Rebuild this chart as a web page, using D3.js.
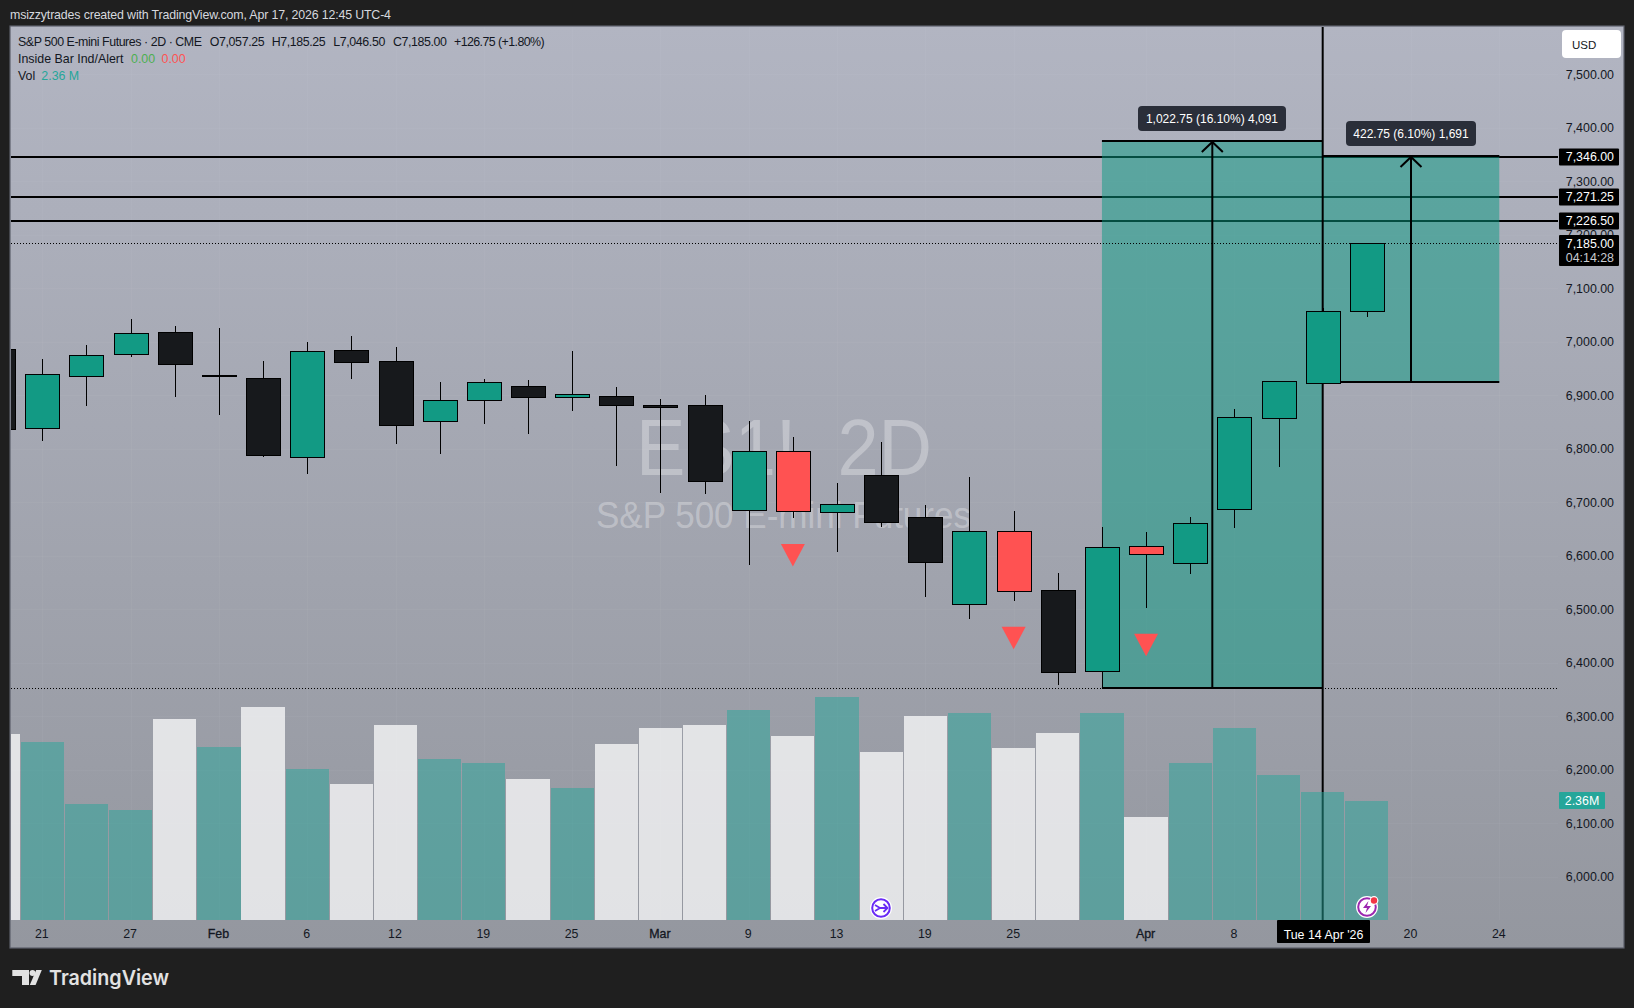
<!DOCTYPE html>
<html><head><meta charset="utf-8">
<style>html,body{margin:0;padding:0;background:#1f1f1f;overflow:hidden}svg{display:block}text{font-family:"Liberation Sans",Arial,sans-serif}</style>
<script src="https://cdnjs.cloudflare.com/ajax/libs/d3/7.8.5/d3.min.js"></script>
</head><body><svg id="c" width="1634" height="1008"></svg>
<script>
// bar index -1 is the partly visible bar at the left edge
const barIndex=d3.range(-1,31);
const opens =[6985.8,6838,6937,6976,7019,6937,6932,6784,6984,6963,6850.6,6890.5,6917,6897,6898,6881,6881,6685,6795,6682,6750,6672,6509,6645.6,6535,6384,6617.5,6587,6686,6856,6924,7057.25];
const highs =[7030,6967,6993,7042,7029,7025,6964,6999,7011,6991,6924,6930,6928,6982,6915,6892,6900,6851,6822,6735,6812.5,6694,6746.5,6683,6567,6653.6,6643.7,6672,6874,6926,7063,7185.25];
const lows  =[6800,6815,6879,6972,6897,6863,6785,6752,6931,6808,6791,6847,6827.6,6871,6768,6718,6716,6583,6670,6607,6654,6523,6481.7,6516,6359,6352.5,6502,6566,6651.8,6766,6924,7046.5];
const closes=[6836.3,6939,6976,7016,6960,6936.5,6788,6982,6961.5,6843,6890.5,6924,6897,6901.7,6882,6877,6738.5,6795,6682,6697,6662,6587,6645.6,6533.4,6381,6615.7,6602,6662,6858.6,6926,7058.25,7185];
const signalBars=[17,22,25];
const signalPrices=[6622,6467,6454];
const volumes=[3.68,3.51,2.30,2.17,3.97,3.41,4.21,2.98,2.69,3.86,3.18,3.10,2.79,2.61,3.47,3.80,3.86,4.15,3.64,4.40,3.33,4.03,4.09,3.39,3.70,4.09,2.03,3.10,3.80,2.86,2.53,2.36];
const volumeUp=[0,1,1,1,0,1,0,1,0,0,1,1,0,1,0,0,0,1,0,1,0,0,1,0,0,1,0,1,1,1,1,1];
const priceTicks=d3.range(6000,7501,100);
const timeTickIndex=[0,2,4,6,8,10,12,14,16,18,20,22,25,27,31,33];
const timeTickLabels=["21","27","Feb","6","12","19","25","Mar","9","13","19","25","Apr","8","20","24"];
const majorLabels=["Feb","Mar","Apr"];
const levels=[7346,7271.25,7226.5];
const levelLabels=["7,346.00","7,271.25","7,226.50"];
const lastPrice=7185, lowPrice=6352.5;
const measureA={from:24,to:29,mid:26.5,low:6352.5,high:7375.25,label:"1,022.75 (16.10%) 4,091"};
const measureB={from:29,to:33,mid:31,low:6925.25,high:7348,label:"422.75 (6.10%) 1,691"};
const measures=[measureA,measureB];

const W=1634,H=1008,L=11,R=1623,T=27,B=947,PaneR=1558,AxisY=920;
const x=d3.scaleLinear().domain([0,33]).range([42.3,1499.3]);
const y=d3.scaleLinear().domain([6000,7500]).range([876.7,74.2]);
const yv=d3.scaleLinear().domain([0,4.4]).range([AxisY,697.4]);
const svg=d3.select("#c");
const defs=svg.append("defs");
const g=defs.append("linearGradient").attr("id","bg").attr("x1",0).attr("x2",0).attr("y1",0).attr("y2",1);
g.append("stop").attr("offset",0).attr("stop-color","#b2b5c2");
g.append("stop").attr("offset",1).attr("stop-color","#94979f");
defs.append("clipPath").attr("id","pane").append("rect").attr("x",L).attr("y",T).attr("width",PaneR-L).attr("height",AxisY-T);

svg.append("rect").attr("width",W).attr("height",H).attr("fill","#1f1f1f");
const tsz=12.4;
svg.append("text").attr("x",10).attr("y",18.5).attr("fill","#d6d8de").attr("font-size",12.4).attr("textLength",381).attr("lengthAdjust","spacing").text("msizzytrades created with TradingView.com, Apr 17, 2026 12:45 UTC-4");
svg.append("rect").attr("x",L-1).attr("y",T-1).attr("width",R-L+2).attr("height",B-T+2).attr("fill","url(#bg)").attr("stroke","#5d606b").attr("stroke-width",1.2);

const pane=svg.append("g").attr("clip-path","url(#pane)");
// grid
pane.append("g").selectAll("line").data(priceTicks).join("line").attr("x1",L).attr("x2",PaneR).attr("y1",d=>Math.round(y(d))+.5).attr("y2",d=>Math.round(y(d))+.5).attr("stroke","rgba(255,255,255,0.035)");
pane.append("g").selectAll("line").data(timeTickIndex).join("line").attr("x1",d=>Math.round(x(d))+.5).attr("x2",d=>Math.round(x(d))+.5).attr("y1",T).attr("y2",AxisY).attr("stroke","rgba(255,255,255,0.035)");
// watermark
pane.append("text").attr("x",636).attr("y",475).attr("font-size",80).attr("fill","rgba(255,255,255,0.3)").attr("textLength",296).attr("lengthAdjust","spacingAndGlyphs").text("ES1!, 2D");
pane.append("text").attr("x",596).attr("y",528).attr("font-size",36).attr("fill","rgba(255,255,255,0.3)").attr("textLength",375).attr("lengthAdjust","spacingAndGlyphs").text("S&P 500 E-mini Futures");
// levels
pane.append("g").selectAll("line").data(levels).join("line").attr("x1",L).attr("x2",PaneR+1).attr("y1",d=>Math.round(y(d))).attr("y2",d=>Math.round(y(d))).attr("stroke","#000").attr("stroke-width",2);
// boxes
const mg=pane.append("g");
mg.selectAll("rect").data(measures).join("rect").attr("x",d=>x(d.from)).attr("width",d=>x(d.to)-x(d.from)).attr("y",d=>y(d.high)).attr("height",d=>y(d.low)-y(d.high)).attr("fill","rgba(8,153,129,0.5)");
measures.forEach(m=>{
  const xa=x(m.from),xb=x(m.to),xm=x(m.mid),yt=Math.round(y(m.high)),yb=Math.round(y(m.low));
  mg.append("line").attr("x1",xa).attr("x2",xb).attr("y1",yt).attr("y2",yt).attr("stroke","#000").attr("stroke-width",2);
  mg.append("line").attr("x1",xa).attr("x2",xb).attr("y1",yb).attr("y2",yb).attr("stroke","#000").attr("stroke-width",2);
  mg.append("line").attr("x1",xm).attr("x2",xm).attr("y1",yt).attr("y2",yb).attr("stroke","#000").attr("stroke-width",2);
  mg.append("path").attr("d",`M${xm-10.5},${yt+11}L${xm},${yt+1}L${xm+10.5},${yt+11}`).attr("fill","none").attr("stroke","#000").attr("stroke-width",2);
});
// dotted lines
[lastPrice,lowPrice].forEach(p=>{pane.append("line").attr("x1",L).attr("x2",PaneR).attr("y1",Math.round(y(p))+.5).attr("y2",Math.round(y(p))+.5).attr("stroke","#000").attr("stroke-dasharray","1 2");});
// crosshair
pane.append("line").attr("x1",x(29)).attr("x2",x(29)).attr("y1",T).attr("y2",AxisY).attr("stroke","#000").attr("stroke-width",2);
// volume
pane.append("g").selectAll("rect").data(volumes).join("rect").attr("x",(d,i)=>x(barIndex[i])-21.6).attr("width",43.2).attr("y",d=>yv(d)).attr("height",d=>AxisY-yv(d)).attr("shape-rendering","crispEdges").attr("fill",(d,i)=>volumeUp[i]?"rgba(38,166,154,0.5)":"rgba(255,255,255,0.72)");
// candles
const candles=pane.append("g").selectAll("g").data(barIndex).join("g");
const col=(i,b)=>signalBars.includes(b)?"#ff5252":closes[i]>=opens[i]?"#129a84":"#17191c";
candles.append("line").attr("x1",b=>Math.round(x(b))+.5).attr("x2",b=>Math.round(x(b))+.5).attr("y1",(b,i)=>y(highs[i])).attr("y2",(b,i)=>y(lows[i])).attr("stroke","#000").attr("shape-rendering","crispEdges");
candles.append("rect").attr("x",b=>Math.round(x(b))-16.5).attr("width",34).attr("y",(b,i)=>Math.round(y(Math.max(opens[i],closes[i])))+.5).attr("height",(b,i)=>Math.max(1,Math.round(Math.abs(y(opens[i])-y(closes[i]))))).attr("fill",(b,i)=>col(i,b)).attr("stroke","#000");
// signals
pane.append("g").selectAll("path").data(signalBars).join("path").attr("d",(b,i)=>{const X=x(b),Y=y(signalPrices[i]);return `M${X-12},${Y}L${X+12},${Y}L${X},${Y+22.5}Z`;}).attr("fill","#ff5252");
// measure labels
[[measureA,1138,1286,106,131],[measureB,1346,1476,121,146]].forEach(([m,a,b,t,e])=>{
  svg.append("rect").attr("x",a).attr("y",t).attr("width",b-a).attr("height",e-t).attr("rx",4).attr("fill","#2a2e39");
  svg.append("text").attr("x",(a+b)/2).attr("y",t+17).attr("text-anchor","middle").attr("fill","#fff").attr("font-size",12).text(m.label);
});
// axes
const ay=d3.axisRight(y).tickValues(priceTicks).tickSize(0).tickFormat(d3.format(",.2f"));
const gy=svg.append("g").attr("transform",`translate(1614,0)`).call(ay);
gy.select(".domain").remove();
gy.selectAll("text").attr("x",0).attr("text-anchor","end").attr("font-size",tsz).attr("fill","#131722");
const ax=d3.axisBottom(x).tickValues(timeTickIndex).tickSize(0).tickFormat((d,i)=>timeTickLabels[i]);
const gx=svg.append("g").attr("transform",`translate(-1,${AxisY})`).call(ax);
gx.select(".domain").remove();
gx.selectAll("text").attr("y",9).attr("font-size",tsz).attr("fill","#131722").each(function(d){
  if(majorLabels.includes(timeTickLabels[timeTickIndex.indexOf(d)])) d3.select(this).attr("stroke","#131722").attr("stroke-width",0.3);
});
// tags
function tag(yy,t){svg.append("rect").attr("x",1559).attr("y",yy-8.5).attr("width",60).attr("height",17).attr("rx",1).attr("fill","#000");
 svg.append("text").attr("x",1614).attr("y",yy+4.4).attr("text-anchor","end").attr("fill","#fff").attr("font-size",tsz).text(t);}
levels.forEach((p,i)=>tag(Math.round(y(p)),levelLabels[i]));
svg.append("rect").attr("x",1559).attr("y",235).attr("width",60).attr("height",31).attr("rx",1).attr("fill","#000");
svg.append("text").attr("x",1614).attr("y",247.5).attr("text-anchor","end").attr("fill","#fff").attr("font-size",tsz).text("7,185.00");
svg.append("text").attr("x",1614).attr("y",261.5).attr("text-anchor","end").attr("fill","#c9cbd1").attr("font-size",tsz).text("04:14:28");
svg.append("rect").attr("x",1559).attr("y",792).attr("width",46).attr("height",17).attr("rx",1).attr("fill","#26a69a");
svg.append("text").attr("x",1582).attr("y",805).attr("text-anchor","middle").attr("fill","#fff").attr("font-size",tsz).text("2.36M");
svg.append("rect").attr("x",1277).attr("y",AxisY).attr("width",93).attr("height",23).attr("rx",1).attr("fill","#000");
svg.append("text").attr("x",1323.5).attr("y",939).attr("text-anchor","middle").attr("fill","#fff").attr("font-size",tsz).text("Tue 14 Apr '26");
// currency button
svg.append("rect").attr("x",1562).attr("y",30).attr("width",59).attr("height",28).attr("rx",4).attr("fill","#fff");
svg.append("text").attr("x",1572).attr("y",49).attr("fill","#131722").attr("font-size",11.5).text("USD");
// legend
const lg=svg.append("g").attr("font-size",tsz).attr("fill","#131722");
[["S&P 500 E-mini Futures · 2D · CME",18,184],["O7,057.25",209.7,55],["H7,185.25",271.7,54],["L7,046.50",333.3,52],["C7,185.00",393,54],["+126.75 (+1.80%)",454,90.6]].forEach(([t,xx,w])=>lg.append("text").attr("x",xx).attr("y",46).attr("textLength",w).attr("lengthAdjust","spacing").text(t));
lg.append("text").attr("x",18).attr("y",63).text("Inside Bar Ind/Alert");
lg.append("text").attr("x",131).attr("y",63).attr("fill","#4caf50").text("0.00");
lg.append("text").attr("x",161.5).attr("y",63).attr("fill","#ff5252").text("0.00");
lg.append("text").attr("x",18).attr("y",80).text("Vol");
lg.append("text").attr("x",41.3).attr("y",80).attr("fill","#26a69a").text("2.36 M");
// icons
const ic1=svg.append("g").attr("transform","translate(881,908)");
ic1.append("circle").attr("r",11).attr("fill","#fff");
ic1.append("circle").attr("r",8.8).attr("fill","#fff").attr("stroke","#6a2cf5").attr("stroke-width",2);
ic1.append("path").attr("d","M-6,-3L-1,0L-6,3M-1,0H6M2.5,-4L6.5,0L2.5,4").attr("fill","none").attr("stroke","#6a2cf5").attr("stroke-width",1.8);
const ic2=svg.append("g").attr("transform","translate(1367,907)");
ic2.append("circle").attr("r",11).attr("fill","#fff");
ic2.append("circle").attr("r",8.8).attr("fill","#fff").attr("stroke","#9c27b0").attr("stroke-width",2);
ic2.append("path").attr("d","M1.5,-6L-4,1H0L-1.5,6L4,-1H0Z").attr("fill","#9c27b0");
ic2.append("circle").attr("cx",7).attr("cy",-6.5).attr("r",4.4).attr("fill","#fff");
ic2.append("circle").attr("cx",7).attr("cy",-6.5).attr("r",3.2).attr("fill","#f23645");
// logo
const lo=svg.append("g").attr("fill","#e2e2e2");
lo.append("path").attr("d","M12.3,970H29V985H22V976H12.3Z");
lo.append("circle").attr("cx",32.5).attr("cy",973).attr("r",3);
lo.append("path").attr("d","M36.2,970H41.8L35.6,985H29.8Z");
lo.append("text").attr("x",49).attr("y",985).attr("font-size",20.5).attr("font-weight",600).style("font-family","Inter,sans-serif").attr("textLength",120).attr("lengthAdjust","spacingAndGlyphs").text("TradingView");
</script></body></html>
